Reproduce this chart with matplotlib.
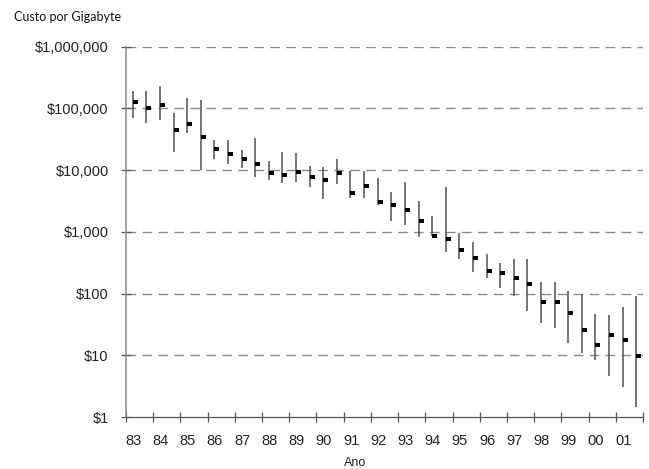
import matplotlib
matplotlib.use("Agg")
import matplotlib.pyplot as plt
from matplotlib.path import Path
import numpy as np

# anos do eixo x (00 e 01 = 100 e 101)
anos = list(range(83, 102))
rotulos_anos = ['83', '84', '85', '86', '87', '88', '89', '90', '91', '92',
                '93', '94', '95', '96', '97', '98', '99', '00', '01']

# custo por gigabyte, dois semestres por ano
maximo = [190000, 190000, 234000, 83000, 148000, 135000, 31000, 31000,
          21000, 33000, 14000, 20000, 19000, 11700, 11200, 15000,
          9800, 9800, 7400, 4400, 6500, 3200, 1780, 5400,
          955, 690, 440, 316, 363, 363, 155, 155,
          110, 98, 47, 45, 60, 91]
minimo = [69000, 59000, 65000, 20000, 40000, 10000, 15000, 12600,
          10700, 7800, 6900, 6200, 6500, 5400, 3400, 5900,
          3550, 3550, 2750, 1480, 1290, 810, 850, 470,
          360, 220, 180, 123, 91, 52, 33, 28,
          16, 11, 8.3, 4.6, 3.1, 1.45]
medio = [126000, 100000, 115000, 44000, 56000, 35000, 22000, 18000,
         15000, 12600, 8900, 8300, 9300, 7800, 6900, 8900,
         4300, 5500, 3000, 2700, 2240, 1510, 870, 780,
         510, 380, 234, 214, 178, 141, 72, 72,
         48, 26, 14.5, 21, 17.4, 9.8]

x = []
for a in anos:
    x.append(a + 0.25)
    x.append(a + 0.75)

y_ticks = [1, 10, 100, 1000, 10000, 100000, 1000000]
y_labels = ['$1', '$10', '$100', '$1,000', '$10,000', '$100,000', '$1,000,000']

plt.rcParams['font.family'] = ['Liberation Sans', 'DejaVu Sans']

fig = plt.figure(figsize=(6.49, 4.69), dpi=100)
ax = fig.add_axes([126 / 649, 1 - 417 / 469, (643 - 126) / 649, (417 - 46.7) / 469])

# marcador retangular, encostado a direita da linha
ret = Path([(0, -0.3), (1, -0.3), (1, 0.3), (0, 0.3), (0, -0.3)],
           [Path.MOVETO, Path.LINETO, Path.LINETO, Path.LINETO, Path.CLOSEPOLY])

ax.vlines(x, minimo, maximo, color='#505050', lw=1.1, zorder=3)
ax.plot(x, medio, linestyle='none', marker=ret, markersize=7.4,
        color='black', markeredgewidth=0, zorder=4)

ax.set_yscale('log')
ax.set_ylim(1, 1000000)
ax.set_xlim(83, 102)
ax.set_yticks(y_ticks)
ax.set_yticklabels(y_labels)
ax.minorticks_off()
ax.set_xticks(range(83, 103))
ax.set_xticklabels([])

for lbl_y in y_ticks[1:]:
    ax.axhline(lbl_y, color='#8a8a8a', lw=1.0, linestyle=(0, (7, 4.5)), zorder=1)

for s in ['top', 'right']:
    ax.spines[s].set_visible(False)
ax.spines['left'].set_color('#8a8a8a')
ax.spines['left'].set_linewidth(1.1)
ax.spines['bottom'].set_color('#555555')
ax.spines['bottom'].set_linewidth(0.9)

ax.tick_params(axis='y', direction='inout', length=7, width=0.9, color='#555555',
               labelsize=10.5, labelcolor='#222222', pad=9)
ax.tick_params(axis='x', direction='inout', length=7, width=0.9, color='#555555')

for a, r in zip(anos, rotulos_anos):
    ax.text(a + 0.27, -0.045, r, transform=ax.get_xaxis_transform(),
            ha='center', va='top', fontsize=10.5, color='#222222')

fig.text(14 / 649, 1 - 21 / 469, 'Custo por Gigabyte', fontsize=9,
         family=['Lato', 'DejaVu Sans'], color='#111111', va='baseline')
fig.text(355 / 649, 1 - 466 / 469, 'Ano', fontsize=9, ha='center',
         va='baseline', color='#222222')

fig.savefig('out.png', dpi=100)
